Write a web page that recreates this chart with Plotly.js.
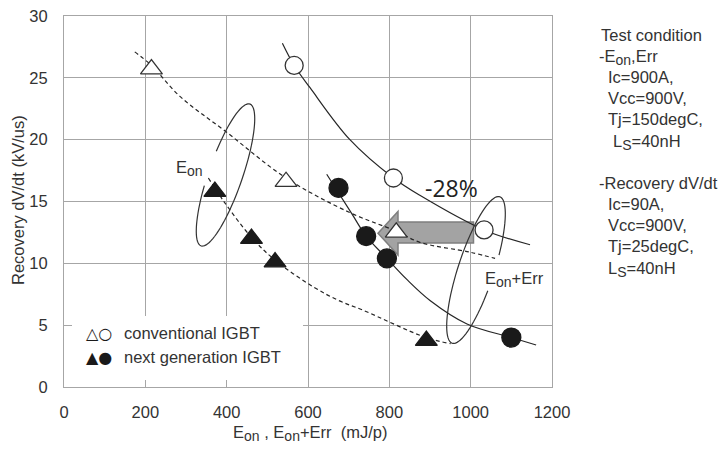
<!DOCTYPE html>
<html><head><meta charset="utf-8">
<script src="https://cdn.plot.ly/plotly-3.0.1.min.js"></script>
<style>html,body{margin:0;padding:0;background:#fff}#chart{width:728px;height:457px}</style>
</head><body><div id="chart"></div>
<script>
// ---- data ----
const convEonX = [215, 546, 817];
const convEonY = [25.7, 16.6, 12.5];
const convTotX = [566, 810, 1033];
const convTotY = [26.0, 16.9, 12.7];
const nextEonX = [371, 461, 519, 891];
const nextEonY = [15.8, 12.0, 10.1, 3.75];
const nextTotX = [675, 743, 794, 1100];
const nextTotY = [16.1, 12.2, 10.4, 4.0];
// trend lines as drawn in the reference
const convEonFitX = [174, 215, 285, 400, 546, 703, 817, 875, 999, 1060];
const convEonFitY = [27.1, 26.0, 23.5, 20.6, 16.9, 14.1, 12.6, 11.7, 10.9, 10.4];
const convTotFitX = [537, 566, 605, 703, 810, 875, 1033, 1146];
const convTotFitY = [27.8, 26.0, 24.2, 20.0, 16.9, 15.5, 12.7, 11.5];
const nextEonFitX = [355, 391, 461, 521, 613, 675, 736, 890, 951];
const nextEonFitY = [16.9, 15.1, 12.1, 10.2, 8.1, 7.0, 6.2, 4.0, 3.5];
const nextTotFitX = [646, 708, 743, 794, 843, 900, 991, 1100, 1161];
const nextTotFitY = [17.2, 14.0, 12.2, 10.4, 8.7, 7.0, 5.1, 4.0, 3.4];
const xTicks = [0, 200, 400, 600, 800, 1000, 1200];
const yTicks = [0, 5, 10, 15, 20, 25, 30];
const legendLabels = ['conventional IGBT', 'next generation IGBT'];
const legendSymbols = ['\u25B3\u25CB', '\u25B2\u25CF'];
const reductionLabel = '-28%';
const sub = t => '<sub><span style="font-size:14px">' + t + '</span></sub>';
const conditionLines = ['Test condition', '-E' + sub('on') + ',Err', 'Ic=900A,', 'Vcc=900V,', 'Tj=150degC,', 'L' + sub('S') + '=40nH',
  '-Recovery dV/dt', 'Ic=90A,', 'Vcc=900V,', 'Tj=25degC,', 'L' + sub('S') + '=40nH'];

// ---- geometry of the plot area (pixels) ----
const L = 64, T = 16, W = 488, H = 371, XMAX = 1200, YMAX = 30;
const dx = px => (px - L) / W * XMAX;
const dy = py => (T + H - py) / H * YMAX;
const pxp = px => (px - L) / W;
const pyp = py => (T + H - py) / H;

function ellipsePath(cx, cy, a, b, tilt, t0, t1) {
  const th = tilt * Math.PI / 180;
  const u = [Math.sin(th), -Math.cos(th)], v = [Math.cos(th), Math.sin(th)];
  let s = '';
  for (let t = t0; t <= t1 + 1e-9; t += 4) {
    const r = t * Math.PI / 180;
    const px = cx + a * Math.cos(r) * u[0] + b * Math.sin(r) * v[0];
    const py = cy + a * Math.cos(r) * u[1] + b * Math.sin(r) * v[1];
    s += (s ? 'L' : 'M') + dx(px).toFixed(2) + ',' + dy(py).toFixed(2);
  }
  return s;
}
function polyPath(pts) {
  return pts.map((p, i) => (i ? 'L' : 'M') + dx(p[0]).toFixed(2) + ',' + dy(p[1]).toFixed(2)).join('') + 'Z';
}

const lineCol = '#262626';
const fitLine = (x, y, dash) => ({x, y, type: 'scatter', mode: 'lines', line: {color: lineCol, width: 1.2, dash, shape: 'spline', smoothing: 1}, hoverinfo: 'skip', showlegend: false});
const pts = (x, y, sym, filled, size) => ({x, y, type: 'scatter', mode: 'markers', showlegend: false,
  marker: {symbol: sym, size, color: filled ? '#1a1a1a' : '#ffffff', line: {color: filled ? '#1a1a1a' : '#333333', width: 1.3}}});

const data = [
  fitLine(convEonFitX, convEonFitY, '4px,3px'),
  fitLine(nextEonFitX, nextEonFitY, '4px,3px'),
  fitLine(convTotFitX, convTotFitY, 'solid'),
  fitLine(nextTotFitX, nextTotFitY, 'solid'),
  pts(convEonX, convEonY, 'triangle-up', false, 19),
  pts(nextEonX, nextEonY, 'triangle-up', true, 19),
  pts(convTotX, convTotY, 'circle', false, 18),
  pts(nextTotX, nextTotY, 'circle', true, 19)
];

const font = {family: 'Liberation Sans, Arial, sans-serif', size: 16.5, color: '#333'};
const ann = [];
// axis titles
ann.push({xref: 'paper', yref: 'paper', x: pxp(310), y: pyp(433), text: 'E' + sub('on') + ' , E' + sub('on') + '+Err &nbsp;(mJ/p)', showarrow: false, font, xanchor: 'center', yanchor: 'middle'});
ann.push({xref: 'paper', yref: 'paper', x: pxp(18), y: pyp(200), text: 'Recovery dV/dt (kV/us)', textangle: -90, showarrow: false, font, xanchor: 'center', yanchor: 'middle'});
// legend
legendLabels.forEach((t, i) => {
  ann.push({xref: 'paper', yref: 'paper', x: pxp(84), y: pyp(333 + 24 * i), text: legendSymbols[i], showarrow: false, font: {family: 'DejaVu Sans', size: 16, color: '#1a1a1a'}, xanchor: 'left', yanchor: 'middle'});
  ann.push({xref: 'paper', yref: 'paper', x: pxp(122), y: pyp(333 + 24 * i), text: t, showarrow: false, font, xanchor: 'left', yanchor: 'middle'});
});
// labels inside plot
ann.push({xref: 'paper', yref: 'paper', x: pxp(189), y: pyp(168), text: 'E' + sub('on'), showarrow: false, font, xanchor: 'center', yanchor: 'middle'});
ann.push({xref: 'paper', yref: 'paper', x: pxp(514), y: pyp(279), text: 'E' + sub('on') + '+Err', showarrow: false, font, xanchor: 'center', yanchor: 'middle'});
ann.push({xref: 'paper', yref: 'paper', x: pxp(451), y: pyp(188), text: reductionLabel, showarrow: false, font: {family: 'Open Sans, sans-serif', size: 23, color: '#222'}, xanchor: 'center', yanchor: 'middle'});
// test conditions
const condX = [599, 597, 606, 606, 606, 611, 597, 606, 606, 606, 606];
const condY = [35, 57, 77, 98, 119, 142, 183, 204, 225, 246, 269];
conditionLines.forEach((t, i) => {
  ann.push({xref: 'paper', yref: 'paper', x: pxp(condX[i]), y: pyp(condY[i]), text: t, showarrow: false, font, xanchor: 'left', yanchor: 'middle'});
});

const shapes = [
  {type: 'rect', xref: 'x', yref: 'y', x0: dx(72), x1: dx(303), y0: dy(380), y1: dy(316), fillcolor: '#ffffff', line: {width: 0}, layer: 'between'},
  {type: 'path', xref: 'x', yref: 'y', path: polyPath([[378, 233.3], [398, 211.5], [398, 222], [473.5, 222], [473.5, 243], [398, 243], [398, 255]]),
   fillcolor: '#a3a3a3', line: {color: '#7f7f7f', width: 1.5}, layer: 'between'},
  {type: 'path', xref: 'x', yref: 'y', path: ellipsePath(225.5, 175, 75, 17, 19, 285, 617), line: {color: '#333', width: 1.2}, layer: 'above'},
  {type: 'path', xref: 'x', yref: 'y', path: ellipsePath(476, 270, 77, 18, 18, 102, 436), line: {color: '#333', width: 1.2}, layer: 'above'}
];

const axisBase = {showgrid: true, gridcolor: '#a6a6a6', gridwidth: 1, zeroline: false, showline: true, mirror: true, linecolor: '#a6a6a6', linewidth: 1,
  tickfont: font, ticks: '', fixedrange: true};
const layout = {
  width: 728, height: 457, margin: {l: L, r: 728 - L - W, t: T, b: 457 - T - H},
  paper_bgcolor: '#fff', plot_bgcolor: '#fff', showlegend: false,
  xaxis: Object.assign({}, axisBase, {range: [0, XMAX], tickvals: xTicks, ticktext: xTicks.map(String), ticklabelstandoff: 10}),
  yaxis: Object.assign({}, axisBase, {range: [0, YMAX], tickvals: yTicks, ticktext: yTicks.map(String), ticklabelstandoff: 12}),
  annotations: ann, shapes
};
Plotly.newPlot('chart', data, layout, {staticPlot: true});
</script></body></html>
